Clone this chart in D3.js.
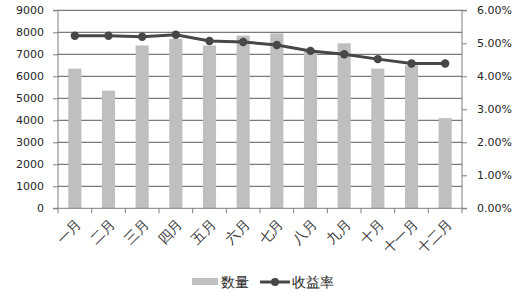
<!DOCTYPE html>
<html><head><meta charset="utf-8">
<script src="https://cdn.jsdelivr.net/npm/d3@7"></script>
<style>body{margin:0;background:#fff}svg{display:block}text{font-family:"DejaVu Sans",Verdana,sans-serif}</style>
</head><body><svg id="c" width="530" height="293"></svg>
<script>
const months = ["一月","二月","三月","四月","五月","六月","七月","八月","九月","十月","十一月","十二月"];
const quantity = [6350, 5350, 7400, 7700, 7400, 7850, 7950, 7200, 7500, 6350, 6500, 4100];
const yieldRate = [5.23, 5.23, 5.20, 5.26, 5.07, 5.04, 4.95, 4.77, 4.67, 4.52, 4.39, 4.39];
const leftTicks = [0,1000,2000,3000,4000,5000,6000,7000,8000,9000];
const rightTicks = [0,1,2,3,4,5,6];
const seriesNames = ["数量","收益率"];

const svg = d3.select("#c");
const L = 58, R = 462, T = 10.3, B = 208.3;
const x = d3.scaleBand().domain(months).range([L, R]).paddingInner(0.61).paddingOuter(0.305);
const xb = d3.scaleBand().domain(months).range([L, R]);
const yL = d3.scaleLinear().domain([0, 9000]).range([B, T]);
const yR = d3.scaleLinear().domain([0, 6]).range([B, T]);

// gridlines
svg.append("g").selectAll("line").data(leftTicks.slice(1)).join("line")
  .attr("x1", L).attr("x2", R).attr("y1", d => yL(d)).attr("y2", d => yL(d))
  .attr("stroke", "#595959").attr("stroke-width", 1);

// bars
svg.append("g").selectAll("rect").data(quantity).join("rect")
  .attr("x", (d, i) => x(months[i])).attr("width", x.bandwidth())
  .attr("y", d => yL(d)).attr("height", d => B - yL(d))
  .attr("fill", "#bfbfbf");

// axes
const axCol = "#7f7f7f";
const gl = svg.append("g").attr("transform", `translate(${L},0)`)
  .call(d3.axisLeft(yL).tickValues(leftTicks).tickSize(5).tickPadding(9).tickFormat(d3.format("d")));
const gr = svg.append("g").attr("transform", `translate(${R},0)`)
  .call(d3.axisRight(yR).tickValues(rightTicks).tickSize(5).tickPadding(10).tickFormat(d => d.toFixed(2) + "%"));
const gx = svg.append("g").attr("transform", `translate(0,${B})`)
  .call(d3.axisBottom(xb).tickSize(0).tickFormat(""));
// x tick marks at band boundaries
svg.append("g").selectAll("line").data(d3.range(13)).join("line")
  .attr("x1", i => L + i * xb.step()).attr("x2", i => L + i * xb.step())
  .attr("y1", B).attr("y2", B + 5).attr("stroke", axCol);
[gl, gr, gx].forEach(g => {
  g.selectAll("path.domain").attr("stroke", axCol);
  g.selectAll(".tick line").attr("stroke", axCol);
  g.selectAll("text").attr("font-size", 11).attr("fill", "#262626")
    .attr("font-family", '"DejaVu Sans",Verdana,sans-serif');
});
gl.select("path.domain").attr("d", `M-5,${T}H0V${B}H-5`);
gr.select("path.domain").attr("d", `M5,${T}H0V${B}H5`);
gx.select("path.domain").attr("d", `M${L},0H${R}`);

// x labels rotated
svg.append("g").selectAll("text").data(months).join("text")
  .attr("transform", d => `translate(${xb(d) + xb.bandwidth()/2 + 4},${B + 13}) rotate(-45)`)
  .attr("text-anchor", "end").attr("dy", "0.35em")
  .attr("font-size", 14).attr("fill", "#3a3a3a")
  .attr("font-family", '"Noto Sans CJK SC",sans-serif')
  .text(d => d);

// line
const line = d3.line().x((d, i) => xb(months[i]) + xb.bandwidth()/2).y(d => yR(d));
svg.append("path").datum(yieldRate).attr("d", line)
  .attr("fill", "none").attr("stroke", "#474747").attr("stroke-width", 3);
svg.append("g").selectAll("circle").data(yieldRate).join("circle")
  .attr("cx", (d, i) => xb(months[i]) + xb.bandwidth()/2).attr("cy", d => yR(d))
  .attr("r", 4.2).attr("fill", "#474747");

// legend
const lg = svg.append("g");
lg.append("rect").attr("x", 192).attr("y", 278).attr("width", 26).attr("height", 7).attr("fill", "#bfbfbf");
lg.append("text").attr("x", 221).attr("y", 282).attr("dy", "0.35em").attr("font-size", 13.5)
  .attr("font-family", '"Noto Sans CJK SC",sans-serif').attr("fill", "#262626").text(seriesNames[0]);
lg.append("line").attr("x1", 260).attr("x2", 290).attr("y1", 282).attr("y2", 282)
  .attr("stroke", "#474747").attr("stroke-width", 3);
lg.append("circle").attr("cx", 275).attr("cy", 282).attr("r", 4).attr("fill", "#474747");
lg.append("text").attr("x", 292).attr("y", 282).attr("dy", "0.35em").attr("font-size", 13.5)
  .attr("font-family", '"Noto Sans CJK SC",sans-serif').attr("fill", "#262626").text(seriesNames[1]);
</script></body></html>
